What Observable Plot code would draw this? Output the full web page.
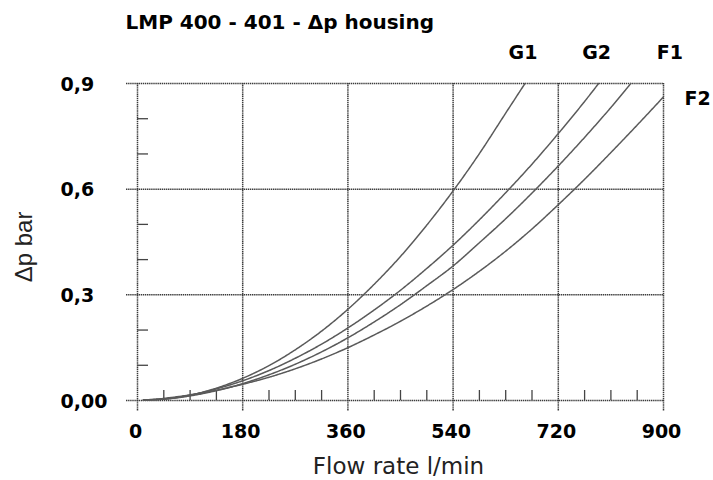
<!DOCTYPE html>
<html><head><meta charset="utf-8">
<script src="https://cdn.jsdelivr.net/npm/d3@7"></script>
<script src="https://cdn.jsdelivr.net/npm/@observablehq/plot@0.6"></script>
<style>body{margin:0;background:#fff}</style>
</head><body><div id="chart"></div>
<script>
const chartTitle = "LMP 400 - 401 - Δp housing";
const xLabel = "Flow rate l/min";
const yLabel = "Δp bar";
const xTicks = [0, 180, 360, 540, 720, 900];
const yTicks = [0, 0.3, 0.6, 0.9];
const yTickLabels = ["0,00", "0,3", "0,6", "0,9"];
const xMinor = [45, 90, 135, 225, 270, 315, 405, 450, 495, 585, 630, 675, 765, 810, 855];
const yMinor = [0.1, 0.2, 0.4, 0.5, 0.7, 0.8];
const seriesNames = ["G1", "G2", "F1", "F2"];

const g1Flow = [10, 45, 90, 135, 180, 225, 270, 315, 360, 405, 450, 495, 540, 585, 630, 663];
const g1Dp   = [0.002, 0.004, 0.015, 0.035, 0.063, 0.099, 0.144, 0.197, 0.259, 0.330, 0.409, 0.498, 0.595, 0.701, 0.816, 0.90];
const g2Flow = [10, 45, 90, 135, 180, 225, 270, 315, 360, 405, 450, 495, 540, 585, 630, 675, 720, 765, 789];
const g2Dp   = [0.001, 0.004, 0.015, 0.033, 0.056, 0.085, 0.12, 0.16, 0.206, 0.257, 0.313, 0.375, 0.441, 0.513, 0.59, 0.671, 0.758, 0.849, 0.90];
const f1Flow = [10, 45, 90, 135, 180, 225, 270, 315, 360, 405, 450, 495, 540, 585, 630, 675, 720, 765, 810, 844];
const f1Dp   = [0.001, 0.004, 0.013, 0.028, 0.048, 0.073, 0.103, 0.138, 0.178, 0.223, 0.272, 0.326, 0.382, 0.448, 0.516, 0.589, 0.666, 0.747, 0.832, 0.90];
const f2Flow = [10, 45, 90, 135, 180, 225, 270, 315, 360, 405, 450, 495, 540, 585, 630, 675, 720, 765, 810, 855, 900];
const f2Dp   = [0.001, 0.006, 0.016, 0.029, 0.046, 0.066, 0.09, 0.118, 0.15, 0.186, 0.225, 0.268, 0.315, 0.367, 0.424, 0.487, 0.556, 0.628, 0.704, 0.782, 0.862];

const flows = [g1Flow, g2Flow, f1Flow, f2Flow];
const dps = [g1Dp, g2Dp, f1Dp, f2Dp];
const rows = [];
seriesNames.forEach((s, i) => flows[i].forEach((q, j) => rows.push({series: s, q, dp: dps[i][j]})));
const ends = seriesNames.map((s, i) => ({series: s, q: flows[i][flows[i].length - 1], dp: dps[i][dps[i].length - 1]}));

const labelOffsets = {G1: [-2, -31], G2: [-2, -31], F1: [39, -31], F2: [34, 2]};
const gridStyle = {stroke: "#3a3a3a", strokeWidth: 1.5, strokeDasharray: "1.4,0.7"};
const tickStyle = {stroke: "#444", strokeWidth: 1.3};
const bold = {fontFamily: "DejaVu Sans", fontWeight: "bold", fontSize: 19, fill: "#000"};

const plot = Plot.plot({
  width: 713, height: 480,
  marginLeft: 137, marginRight: 50, marginTop: 83, marginBottom: 80,
  x: {domain: [0, 900], axis: null},
  y: {domain: [0, 0.9], axis: null},
  style: {fontFamily: "DejaVu Sans", background: "#fff"},
  marks: [
    Plot.ruleX(xTicks, {x: d => d, ...gridStyle, insetBottom: -11}),
    Plot.ruleY(yTicks, {y: d => d, ...gridStyle, insetLeft: -11}),
    Plot.ruleX(xMinor, {x: d => d, y1: 0, y2: 0, insetTop: -10, ...tickStyle}),
    Plot.ruleY(yMinor, {y: d => d, x1: 0, x2: 0, insetRight: -11, ...tickStyle}),
    Plot.line(rows, {x: "q", y: "dp", z: "series", stroke: "#5a5a5a", strokeWidth: 1.5, strokeDasharray: "2,0.6", curve: "monotone-x"}),
    ...ends.map(e => Plot.text([e], {x: "q", y: "dp", text: "series", dx: labelOffsets[e.series][0], dy: labelOffsets[e.series][1], ...bold})),
    Plot.text(yTicks, {y: d => d, text: (d, i) => yTickLabels[i], frameAnchor: "left", textAnchor: "start", lineAnchor: "middle", dx: -77, dy: 1, ...bold}),
    Plot.text(xTicks, {x: d => d, text: d => String(d), frameAnchor: "bottom", lineAnchor: "middle", textAnchor: "middle", dy: 31.5, dx: -2, ...bold}),
    Plot.text([xLabel], {text: d => d, frameAnchor: "bottom", lineAnchor: "middle", textAnchor: "middle", dy: 66, dx: -2, fontFamily: "DejaVu Sans", fontSize: 23, fill: "#222"}),
    Plot.text([yLabel], {text: d => d, frameAnchor: "left", textAnchor: "middle", lineAnchor: "middle", rotate: -90, dx: -113, dy: 5, fontFamily: "Liberation Sans", fontSize: 24, fill: "#222"}),
    Plot.text([chartTitle], {text: d => d, frameAnchor: "top-left", textAnchor: "start", lineAnchor: "middle", dx: -12, dy: -61, ...bold, fontSize: 20})
  ]
});
document.getElementById("chart").appendChild(plot);
</script>
</body></html>
